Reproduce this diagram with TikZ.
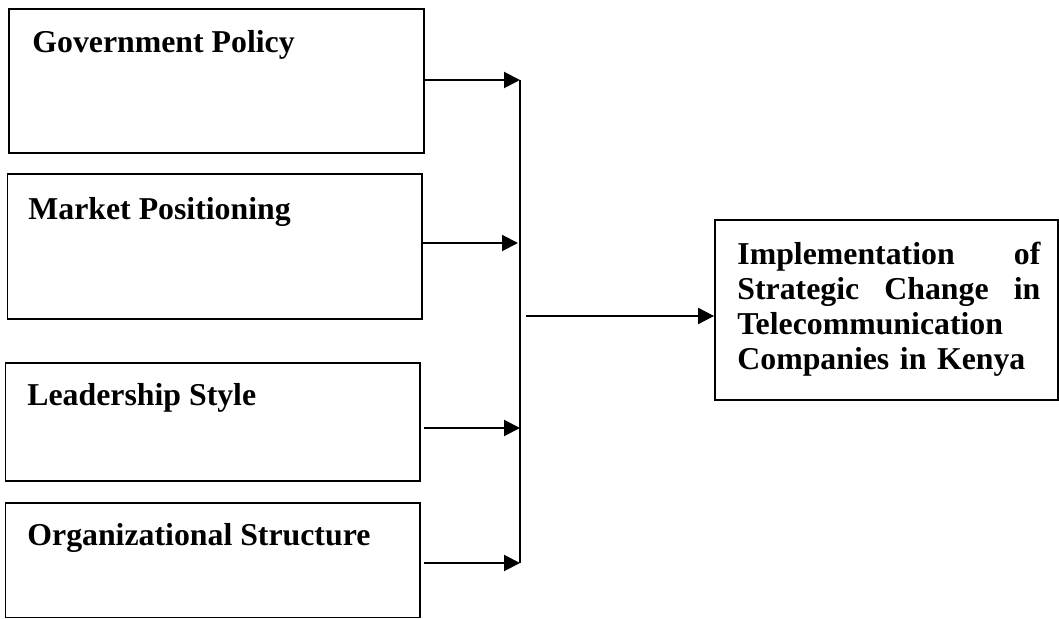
\documentclass[tikz,border=0pt]{standalone}
\usepackage{fontspec}
\setmainfont{Liberation Serif}
\usetikzlibrary{arrows.meta,positioning}
\tikzset{
  varbox/.style={draw,line width=0.9pt,inner sep=0pt},
  vartext/.style={anchor=north west,inner sep=0pt,font=\fontsize{15.9}{17.5}\selectfont\bfseries},
  link/.style={line width=1pt,-{Triangle[length=8pt,width=8pt]}}
}
\begin{document}
\begin{tikzpicture}[x=0.5pt,y=-0.5pt]
\useasboundingbox (0,0) rectangle (1059,619);
% independent variables
\node[varbox,minimum width=207.5pt,minimum height=72pt] (gov) at (216.5,81) {};
\node[varbox,minimum width=207.25pt,minimum height=72.5pt] (mkt) at (214.75,246.5) {};
\node[varbox,minimum width=207.25pt,minimum height=59pt] (lead) at (212.75,422) {};
\node[varbox,minimum width=207.25pt,minimum height=57.25pt] (org) at (212.75,560.25) {};
\node[vartext] (govtxt) at (32,30) {Government Policy};
\node[vartext] (mkttxt) at (28,197) {Market Positioning};
\node[vartext] (leadtxt) at (27,383) {Leadership Style};
\node[vartext] (orgtxt) at (27,523) {Organizational Structure};
% dependent variable
\node[varbox,minimum width=171.5pt,minimum height=90pt] (impl) at (886.5,310) {};
\node[vartext,text width=151.5pt,align=left] (impltxt) at (737,242) {Implementation\hfill of\\
Strategic\hfill Change\hfill in\\
Telecommunication\\
Companies in Kenya};
% bus
\coordinate (b1) at (520,80);
\coordinate (b2) at (518,243);
\coordinate (b3) at (520,428);
\coordinate (b4) at (520,563);
\coordinate (hub) at (526,316);
\draw[link] (gov.east |- b1) -- (b1);
\draw[link] (mkt.east |- b2) -- (b2);
\draw[link] ([xshift=1.5pt]lead.east |- b3) -- (b3);
\draw[link] ([xshift=1.5pt]org.east |- b4) -- (b4);
\draw[line width=1pt] (b1) -- (b4);
\draw[link] (hub) -- (hub -| impl.west);
\end{tikzpicture}
\end{document}
